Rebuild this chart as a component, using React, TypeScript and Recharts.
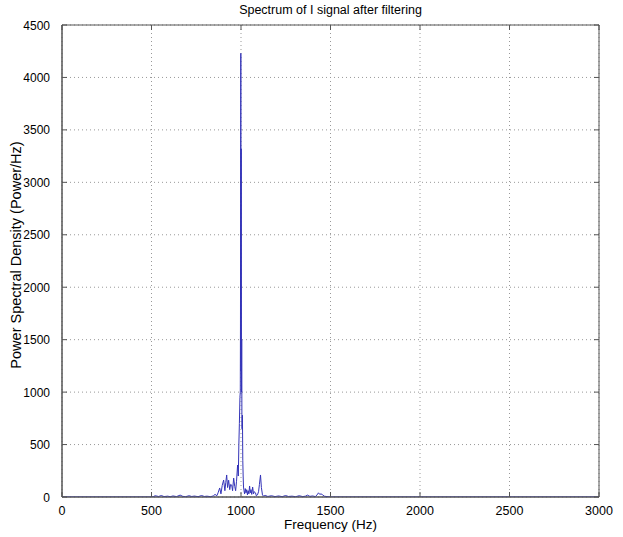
import React from 'react';
import { LineChart, Line, XAxis, YAxis, CartesianGrid, ReferenceArea } from 'recharts';

const freqHz = [
  0, 500, 510, 520, 540, 555, 570, 590, 605, 620, 640, 660, 675, 690, 710, 725, 740, 760, 780, 795,
  810, 830, 845, 855, 865, 872, 881, 888, 895, 903, 910, 915, 920, 925, 931, 937, 942, 948, 953, 959,
  965, 970, 975, 981, 985, 988, 991, 994, 996, 997, 998, 999, 1000, 1001, 1002, 1003, 1004, 1005, 1006, 1008,
  1010, 1012, 1014, 1017, 1020, 1024, 1028, 1032, 1036, 1040, 1044, 1048, 1052, 1056, 1060, 1065, 1070, 1075, 1081, 1086,
  1092, 1098, 1103, 1109, 1114, 1120, 1126, 1135, 1150, 1170, 1190, 1210, 1230, 1249, 1265, 1285, 1305, 1325, 1345, 1360,
  1371, 1385, 1400, 1415, 1425, 1433, 1440, 1447, 1455, 1465, 1480, 1500, 3000,
];
const psd = [
  0, 0, 3, 12, 5, 14, 4, 8, 3, 10, 4, 18, 6, 3, 12, 5, 9, 3, 14, 5,
  8, 3, 10, 25, 12, 40, 86, 30, 110, 162, 60, 140, 210, 90, 160, 70, 120, 114, 60, 180,
  100, 60, 150, 305, 200, 500, 700, 950, 1000, 1600, 2800, 4230, 1200, 3320, 1500, 1000, 1500, 790, 650, 780,
  350, 200, 95, 60, 30, 80, 40, 70, 20, 60, 30, 105, 40, 70, 25, 95, 30, 50, 40, 10,
  20, 50, 120, 210, 90, 20, 8, 15, 5, 12, 4, 10, 3, 14, 5, 8, 3, 12, 4, 8,
  18, 6, 10, 4, 20, 40, 25, 30, 22, 8, 4, 0, 0,
];
const xTicks = [0, 500, 1000, 1500, 2000, 2500, 3000];
const yTicks = [0, 500, 1000, 1500, 2000, 2500, 3000, 3500, 4000, 4500];

const data = freqHz.map((f, i) => ({ f, p: psd[i] }));

const W = 623;
const H = 537;
const M = { top: 25, right: 24, left: 0, bottom: 0 };
const YW = 62;
const XH = 40;
const PLOT_TOP = M.top;
const PLOT_RIGHT = W - M.right;
const FONT = '"Liberation Sans", Arial, sans-serif';
const TM = 8;
const TICKLEN = 5;
const AXC = '#555';
const TICKFS = 12;

const XTick = (props: any) => {
  const { x, y, payload } = props;
  const base = y - TM;
  return (
    <g>
      <line x1={x} x2={x} y1={base} y2={base - TICKLEN} stroke={AXC} />
      <line x1={x} x2={x} y1={PLOT_TOP} y2={PLOT_TOP + TICKLEN} stroke={AXC} />
      <text x={x} y={y + 10} textAnchor="middle" fontSize={12.5} fontFamily={FONT} fill="#000">
        {payload.value}
      </text>
    </g>
  );
};

const YTick = (props: any) => {
  const { x, y, payload } = props;
  const axisX = x + TM;
  return (
    <g>
      <line x1={axisX} x2={axisX + TICKLEN} y1={y} y2={y} stroke={AXC} />
      <line x1={PLOT_RIGHT} x2={PLOT_RIGHT - TICKLEN} y1={y} y2={y} stroke={AXC} />
      <text x={x - 4} y={y + 4.5} textAnchor="end" fontSize={TICKFS} fontFamily={FONT} fill="#000">
        {payload.value}
      </text>
    </g>
  );
};

const YLabel = () => (
  <text
    transform="translate(21,255) rotate(-90)"
    textAnchor="middle"
    fontSize={14.5}
    fontFamily={FONT}
    fill="#000"
  >
    Power Spectral Density (Power/Hz)
  </text>
);

export default function App() {
  return (
    <div style={{ position: 'absolute', left: 0, top: 0, width: W, height: H, background: '#fff' }}>
      <div
        style={{
          position: 'absolute',
          left: YW,
          width: W - YW - M.right,
          top: 3,
          textAlign: 'center',
          fontFamily: FONT,
          fontSize: 12.5,
          color: '#000',
        }}
      >
        Spectrum of I signal after filtering
      </div>
      <LineChart width={W} height={H} data={data} margin={M}>
        <CartesianGrid stroke="#999" strokeDasharray="1 3" />
        <XAxis
          dataKey="f"
          type="number"
          domain={[0, 3000]}
          ticks={xTicks}
          interval={0}
          height={XH}
          tickSize={0}
          tickMargin={TM}
          tickLine={false}
          axisLine={{ stroke: AXC }}
          tick={<XTick />}
          allowDataOverflow
          label={{ value: 'Frequency (Hz)', position: 'insideBottom', offset: 8, fontSize: 13.5, fontFamily: FONT, fill: '#000' }}
        />
        <YAxis
          type="number"
          domain={[0, 4500]}
          ticks={yTicks}
          interval={0}
          width={YW}
          tickSize={0}
          tickMargin={TM}
          tickLine={false}
          axisLine={{ stroke: AXC }}
          tick={<YTick />}
          allowDataOverflow
          label={{ content: () => <YLabel /> }}
        />
        <ReferenceArea x1={0} x2={3000} y1={0} y2={4500} fill="none" stroke={AXC} strokeWidth={1} ifOverflow="visible" />
        <Line
          type="linear"
          dataKey="p"
          stroke="#3434b8"
          strokeWidth={1}
          dot={false}
          activeDot={false}
          isAnimationActive={false}
        />
      </LineChart>
    </div>
  );
}
